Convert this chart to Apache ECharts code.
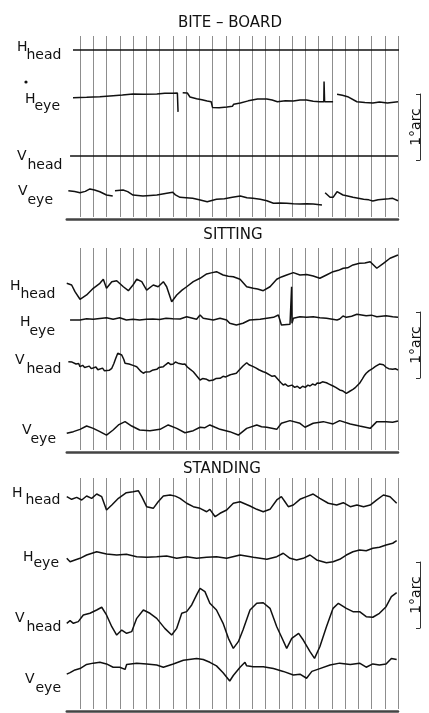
<!DOCTYPE html>
<html>
<head>
<meta charset="utf-8">
<title>Head and eye movements</title>
<script src="https://cdn.jsdelivr.net/npm/echarts@6/dist/echarts.min.js"></script>
<style>
  html, body { margin: 0; padding: 0; background: #fff; }
  #chart { width: 429px; height: 713px; }
</style>
</head>
<body>
<div id="chart"></div>
<script>
// time in units of the vertical time marks, positions in minutes of arc (up = positive)
const panelTitles = ['BITE – BOARD', 'SITTING', 'STANDING']
const traceNames = [['H', 'head'], ['H', 'eye'], ['V', 'head'], ['V', 'eye']]
const scaleLabel = '1°arc'
const markCount = 24

// bite-board
const biteHhead = [[-0.53, 0], [24.15, 0]]
const biteHeye = [[-0.53, -0.6], [0.5, -0.2], [1.5, 0.3], [2.5, 1.2], [3.2, 1.8], [4.0, 2.7], [4.8, 2.4], [5.8, 2.7],
  [6.4, 3.4], [7.0, 3.4], [7.35, 3.6], [7.4, -13.5], [7.45, null], [7.75, 3.9], [8.1, 3.6], [8.3, 0], [8.8, -1.5],
  [9.2, -2.5], [9.6, -3.6], [9.9, -4.3], [10.0, -9.5], [10.5, -9.8], [11.1, -9.1], [11.5, -8.5], [11.6, -6.5],
  [12.1, -5.5], [12.7, -3.5], [13.4, -1.8], [14.1, -1.8], [14.5, -2.8], [14.9, -4.3], [15.5, -3.5], [16.1, -3.6],
  [16.6, -2.7], [17.1, -2.7], [17.6, -3.8], [18.1, -4.3], [18.4, -4.3], [18.42, 14], [18.46, -4.3], [19.1, -4.3],
  [19.15, null], [19.4, 2.5], [19.8, 1.5], [20.2, 0.3], [20.9, -4.3], [21.5, -5], [22.1, -5.5], [22.6, -4.5],
  [23.2, -5.5], [24.0, -4.3]]
const biteVhead = [[-0.75, 0], [24.0, 0]]
const biteVeye = [[-0.88, 4.8], [-0.4, 4], [0, 3.0], [0.4, 4.2], [0.75, 6.4], [1.1, 5.5], [1.5, 3.9], [2.0, 0.9],
  [2.47, 0], [2.5, null], [2.64, 4.8], [3.25, 5.5], [3.6, 4], [4.0, 0.9], [4.75, 0], [5.3, 0.5], [5.8, 0.9],
  [6.55, 2.5], [7.0, 3.4], [7.2, 1], [7.55, -1.2], [8.0, -1.5], [8.5, -2.1], [9.0, -3.5], [9.6, -5.2], [10.3, -3.0],
  [10.9, -2.5], [11.5, -1.2], [12.1, 0], [12.6, -1.5], [13.05, -2.1], [13.6, -3], [14.1, -4.3], [14.6, -6.6],
  [15.1, -6.3], [15.6, -6.6], [16.1, -7], [16.6, -7.3], [17.1, -7], [17.6, -7.3], [18.26, -8.2], [18.35, null],
  [18.5, 3.0], [18.87, -1.2], [19.1, -1.2], [19.4, 3.9], [19.85, 0.9], [20.2, 0], [20.6, -1.2], [21.0, -2],
  [21.4, -3.0], [21.8, -3.5], [22.1, -4.5], [22.5, -3.5], [22.9, -3.0], [23.3, -2.5], [23.6, -2.1], [24.0, -4.3]]

// sitting
const sitHhead = [[-1.0, -0.3], [-0.63, -1.8], [-0.38, -7.9], [0, -14.8], [0.5, -10.9], [1.0, -4.8], [1.5, -0.3],
  [1.76, 3.4], [2.0, -4.8], [2.4, 1.2], [2.77, 2.1], [3.27, -3.4], [3.65, -7.0], [4.0, -1.8], [4.28, 3.4],
  [4.66, 1.2], [5.03, -6.4], [5.53, -1.8], [5.9, -3.4], [6.29, 1.2], [6.54, -3.4], [6.92, -17], [7.3, -10.9],
  [7.7, -6.5], [8.05, -3.4], [8.55, 1.2], [9.06, 4.3], [9.56, 8.2], [9.9, 9.2], [10.3, 10.3], [10.8, 7.3],
  [11.2, 6.2], [11.57, 5.7], [12.08, 3.4], [12.58, -3.4], [13.08, -4.8], [13.4, -5.5], [13.83, -7.0], [14.34, -3.4],
  [14.85, 3.4], [15.2, 5.5], [15.6, 7.3], [16.1, 9.4], [16.6, 7.3], [17.1, 7.8], [17.6, 6.4], [18.1, 4.3],
  [18.6, 7.3], [19.1, 10.3], [19.5, 11.5], [19.87, 13.4], [20.2, 13.8], [20.6, 16.4], [21.1, 17.9], [21.5, 18.2],
  [21.9, 19.4], [22.4, 13.4], [22.9, 17.9], [23.4, 22.5], [24.0, 25.5]]
const sitHeye = [[-0.75, -0.9], [0, -0.9], [0.5, 0.2], [1.0, -0.3], [1.5, 0.5], [2.0, 1.2], [2.5, -0.3], [3.0, 1.2],
  [3.5, -0.9], [4.0, -0.2], [4.5, -0.9], [5.0, -0.3], [5.5, 0], [6.0, -0.5], [6.5, 0.6], [7.0, 0.2], [7.55, 0],
  [8.05, 2.1], [8.8, -0.3], [9.06, 3.6], [9.3, 0.6], [10.06, -0.9], [10.57, 0.6], [11.07, -0.9], [11.3, -3.9],
  [11.8, -5.5], [12.3, -3.9], [12.8, -0.9], [13.6, -0.3], [14.1, 0.6], [14.6, 1.5], [14.97, 3.6], [15.2, -5.5],
  [15.85, -4.8], [15.95, -4.5], [15.97, 29.4], [16.0, -3.9], [16.1, 0.6], [16.6, 2.1], [17.1, 1.5], [17.6, 2.1],
  [18.1, 1.2], [18.6, 0.6], [19.4, -0.9], [19.6, 0], [19.85, 2.7], [20.1, 1.5], [20.5, 2.5], [20.9, 4.3],
  [21.6, 3.0], [22.0, 3.5], [22.4, 2.1], [23.1, 3.0], [23.6, 2.0], [24.0, 1.5]]
const sitVhead = [[-0.88, 4.8], [-0.75, 6.4], [-0.6, 4.5], [-0.45, 5.5], [-0.3, 2.7], [-0.1, 3.2], [0, 0.3],
  [0.2, 1.5], [0.35, -0.5], [0.5, -0.3], [0.7, 0.8], [0.85, -1.5], [1.0, -1.2], [1.2, 0], [1.35, -2.5], [1.5, -2.1],
  [1.7, -1.0], [1.85, -3.5], [2.0, -4.3], [2.2, -3], [2.4, -1.2], [2.55, 3], [2.7, 8], [2.85, 12.5], [3.0, 12],
  [3.15, 10.9], [3.3, 7], [3.4, 3.4], [3.55, 4.5], [3.7, 2.7], [3.85, 3.5], [4.0, 1.5], [4.15, 2], [4.28, 0.3],
  [4.45, -2], [4.6, -4], [4.78, -5.7], [4.95, -4.5], [5.1, -5], [5.28, -4.3], [5.45, -3], [5.6, -3.5], [5.79, -2.1],
  [5.95, -0.5], [6.1, -1], [6.29, 0.3], [6.45, 2], [6.66, 3.9], [6.85, 2.2], [7.04, 2.7], [7.2, 4.5], [7.4, 3.5],
  [7.55, 4.8], [7.75, 2.5], [7.92, 2.7], [8.1, 0], [8.3, -2], [8.55, -4.3], [8.8, -8], [9.06, -11.8], [9.25, -10.5],
  [9.4, -12], [9.56, -11.2], [9.75, -12.5], [9.9, -11], [10.06, -11.8], [10.25, -10.5], [10.4, -11.5], [10.57, -10.3],
  [10.8, -8.5], [11.0, -9], [11.3, -7.3], [11.5, -6.5], [11.8, -5.7], [12.0, -3], [12.3, 0.9], [12.45, 2.5],
  [12.58, 3.9], [12.75, 2], [12.9, 2.5], [13.08, 0.3], [13.3, -1], [13.5, -2.5], [13.83, -4.3], [14.0, -5],
  [14.15, -6.8], [14.34, -7.3], [14.5, -8.5], [14.7, -8], [14.85, -9.4], [15.0, -12], [15.15, -14], [15.34, -16.4],
  [15.5, -15.5], [15.7, -17.5], [15.85, -17.9], [16.0, -16.5], [16.2, -18.5], [16.4, -17.5], [16.6, -19.4],
  [16.8, -17.5], [17.0, -18.5], [17.2, -16.5], [17.36, -17.3], [17.55, -15.5], [17.75, -16.5], [17.9, -14.5],
  [18.1, -14.8], [18.3, -13.5], [18.45, -15], [18.6, -14.3], [18.8, -15.5], [18.95, -16], [19.1, -17.3],
  [19.3, -18.5], [19.45, -19.5], [19.6, -20.9], [19.8, -21.5], [19.95, -23], [20.1, -23.9], [20.3, -22.5],
  [20.45, -21.5], [20.6, -20.3], [20.8, -18.5], [20.95, -17], [21.1, -14.8], [21.3, -11], [21.45, -8], [21.6, -5.7],
  [21.8, -3.5], [21.95, -2.5], [22.1, -1.2], [22.3, 0.5], [22.45, 2], [22.6, 2.7], [22.75, 1.5], [22.9, 2],
  [23.1, -0.3], [23.3, -1.5], [23.45, -0.8], [23.6, -2.1], [23.8, -1.5], [24.0, -2.7]]
const sitVeye = [[-1.0, -3.0], [-0.5, -1.5], [0, 0.6], [0.5, 3.6], [1.0, 1.5], [1.5, -1.5], [2.0, -4.6], [2.5, 0],
  [2.9, 4.6], [3.4, 7.6], [3.9, 3.6], [4.5, 0], [5.28, -0.6], [6.04, 0.6], [6.66, 4.6], [7.3, 1.5], [7.92, -2.5],
  [8.55, -0.6], [9.06, 2.5], [9.4, 2.0], [9.8, 4.6], [10.2, 2.5], [10.57, 0.6], [11.3, -1.5], [11.95, -4.6],
  [12.58, 1.5], [13.34, 4.6], [13.7, 3.0], [14.1, 2.5], [14.85, 0.6], [15.2, 6.1], [15.85, 8.5], [16.6, 6.1],
  [16.98, 2.5], [17.6, 6.1], [18.36, 7.6], [19.1, 5.5], [19.6, 8.5], [20.4, 5.5], [21.1, 3.6], [21.9, 1.5],
  [22.4, 7.6], [23.1, 7.6], [23.6, 7.0], [24.0, 8.2]]

// standing
const standHhead = [[-1.0, 0.3], [-0.63, -2.1], [-0.25, -0.3], [0.13, -2.7], [0.5, 0.9], [0.88, -1.2], [1.26, 2.7],
  [1.64, 0.3], [2.0, -11.8], [2.4, -7.3], [2.9, -1.2], [3.5, 3.9], [4.0, 4.8], [4.4, 5.7], [4.66, 0.3],
  [5.03, -8.8], [5.53, -10.3], [5.9, -4.3], [6.29, 0.9], [6.8, 1.8], [7.2, 0.8], [7.55, -1.2], [8.05, -5.7],
  [8.55, -8.8], [9.06, -10.3], [9.56, -13.4], [9.8, -11.2], [10.2, -17.9], [10.57, -14.8], [11.07, -11.8],
  [11.57, -5.7], [12.08, -4.3], [12.83, -8.2], [13.34, -11.2], [13.83, -13.4], [14.34, -11.2], [14.85, -2.7],
  [15.2, 0.3], [15.47, -4.3], [15.72, -8.8], [16.1, -7.3], [16.6, -2.1], [17.1, 0.3], [17.6, 2.7], [18.1, -1.2],
  [18.74, -5.7], [19.37, -7.3], [19.87, -5.2], [20.4, -8.8], [20.9, -7.3], [21.4, -8.8], [21.9, -7.3], [22.4, -2.7],
  [22.9, 1.8], [23.4, 0.3], [23.9, -5.7]]
const standHeye = [[-1.0, -1.2], [-0.75, -4.3], [-0.38, -2.7], [0, -1.2], [0.5, 1.8], [1.26, 4.8], [2.0, 2.7],
  [2.77, 1.8], [3.5, 2.5], [4.28, 0.3], [5.03, -0.3], [5.79, 0.3], [6.54, 0.9], [7.3, -1.2], [8.05, 0.3],
  [8.8, -1.2], [9.56, -0.3], [10.3, 0.3], [11.07, -1.2], [12.08, 1.8], [13.08, -0.3], [14.1, -2.1], [14.85, 0.3],
  [15.34, 3.4], [15.85, -1.2], [16.35, -2.7], [16.85, -1.2], [17.36, 1.8], [17.86, -2.7], [18.6, -5.2],
  [19.1, -4.3], [19.6, -2.1], [20.1, 1.8], [20.6, 4.8], [21.1, 6.4], [21.6, 5.7], [22.1, 7.9], [22.6, 8.8],
  [23.1, 10.9], [23.6, 12.5], [23.9, 14.8]]
const standVhead = [[-1.0, -3.0], [-0.75, -0.6], [-0.5, -3.0], [-0.13, -1.5], [0.25, 4.6], [0.75, 6.1], [1.26, 9.1],
  [1.64, 11.6], [2.0, 4.6], [2.4, -6.1], [2.77, -13.7], [3.15, -9.1], [3.52, -12.1], [3.9, -10.6], [4.28, 1.5],
  [4.78, 9.1], [5.28, 6.1], [5.79, 1.5], [6.4, -7.6], [6.92, -13.7], [7.3, -7.6], [7.68, 6.1], [8.05, 7.6],
  [8.43, 13.7], [8.8, 22.8], [9.06, 28.8], [9.43, 25.8], [9.8, 15.2], [10.3, 9.1], [10.8, -3.0], [11.2, -16.7],
  [11.57, -25.8], [11.95, -19.7], [12.3, -9.1], [12.83, 9.1], [13.34, 15.2], [13.83, 15.7], [14.34, 10.6],
  [14.85, -6.1], [15.2, -15.2], [15.6, -25.8], [15.98, -16.7], [16.5, -12.1], [16.85, -18.2], [17.36, -28.8],
  [17.7, -34.9], [18.1, -24.3], [18.6, -6.1], [19.1, 10.6], [19.5, 15.2], [20.1, 10.6], [20.6, 7.6], [21.1, 7.6],
  [21.6, 3.0], [22.1, 2.5], [22.6, 6.1], [23.1, 12.1], [23.5, 21.2], [23.9, 24.8]]
const standVeye = [[-1.0, -7.3], [-0.75, -5.7], [-0.38, -2.7], [0, -1.2], [0.5, 3.4], [1.0, 4.8], [1.5, 5.7],
  [2.0, 3.9], [2.5, 0.3], [3.0, 0.3], [3.4, -2.1], [3.52, 3.4], [4.28, 4.8], [5.03, 3.9], [5.79, 2.7], [6.29, 0.3],
  [7.04, 3.9], [7.8, 7.9], [8.8, 10.0], [9.3, 8.8], [9.8, 5.7], [10.3, 1.8], [10.8, -5.7], [11.3, -14.8],
  [11.57, -8.8], [12.08, 0.3], [12.45, 5.7], [12.58, 1.8], [13.08, 0.9], [13.83, 0.9], [14.6, -1.2], [15.34, -4.3],
  [16.1, -8.2], [16.6, -7.3], [17.1, -11.8], [17.5, -4.3], [18.1, -1.2], [18.87, 2.7], [19.6, 4.8], [20.4, 3.4],
  [21.1, 4.8], [21.6, 0.3], [22.1, 3.9], [22.6, 2.7], [23.1, 3.9], [23.5, 10.0], [23.9, 8.8]]

const panelTraces = [
  [biteHhead, biteHeye, biteVhead, biteVeye],
  [sitHhead, sitHeye, sitVhead, sitVeye],
  [standHhead, standHeye, standVhead, standVeye]
]

// layout in px
const X0 = 80, X1 = 398
const UNIT = (X1 - X0) / markCount
const T_MIN = -1
const PX_PER_ARCMIN = 1.1
const TRACE_RANGE = 50
const FONT = '"DejaVu Sans", "Liberation Sans", sans-serif'
const INK = '#111'
const LAYOUT = [
  {title: [230, 23], marks: [36, 217], base: 219, traces: [45, 97, 156, 196], scale: 94,
    labels: [[17, 47, 26.5, 55], [25, 99, 34.5, 106], [17, 156, 27.5, 165], [18, 191, 27.5, 200]]},
  {title: [233, 235], marks: [248, 450], base: 452, traces: [283, 319, 367, 430], scale: 312,
    labels: [[10, 286, 20.5, 294], [20, 322, 29.5, 331], [15, 360, 26.5, 369], [22, 430, 30.5, 439]]},
  {title: [222, 469], marks: [478, 709], base: 711, traces: [497, 557, 620, 677], scale: 562,
    labels: [[12, 493, 25.5, 500], [23, 557, 33.5, 563], [15, 618, 26.5, 627], [25, 679, 35.5, 688]]}
]

const grid = [], xAxis = [], yAxis = [], series = [], graphic = []
const hidden = (min, max) => ({type: 'value', show: false, min: min, max: max})

function addGrid(g, x, y) {
  const i = grid.length
  grid.push(Object.assign({containLabel: false}, g))
  xAxis.push(Object.assign({gridIndex: i}, x))
  yAxis.push(Object.assign({gridIndex: i}, y))
  return i
}

function text(str, x, y, size, align, extra) {
  return Object.assign({
    type: 'text', x: x, y: y, silent: true,
    style: {text: str, font: size + 'px ' + FONT, fill: INK,
      textAlign: align, align: align, textVerticalAlign: 'middle', verticalAlign: 'middle'}
  }, extra || {})
}

const traceLeft = X0 + T_MIN * UNIT
LAYOUT.forEach((p, pi) => {
  // time marks
  addGrid({left: X0, width: X1 - X0, top: p.marks[0], height: p.marks[1] - p.marks[0]},
    {type: 'value', min: 0, max: markCount, interval: 1,
      axisLine: {show: false}, axisTick: {show: false}, axisLabel: {show: false},
      splitLine: {show: true, lineStyle: {color: '#8d8d8d', width: 1}}},
    hidden(0, 1))
  // base line under the panel
  addGrid({left: traceLeft, width: X1 - traceLeft, top: p.marks[0], height: p.base - p.marks[0]},
    {type: 'value', min: T_MIN, max: markCount, position: 'bottom',
      axisLine: {show: true, lineStyle: {color: '#444', width: 2.5}},
      axisTick: {show: false}, axisLabel: {show: false}, splitLine: {show: false}},
    hidden(0, 1))
  // scale bar, 1 degree = 60 arcmin
  addGrid({left: 420, width: 5, top: p.scale, height: 60 * PX_PER_ARCMIN},
    hidden(0, 1),
    {type: 'value', position: 'right', min: 0, max: 60, interval: 60,
      axisLine: {show: true, lineStyle: {color: '#333', width: 1}},
      axisTick: {show: true, inside: true, length: 4, lineStyle: {color: '#333'}},
      axisLabel: {show: false}, splitLine: {show: false}})
  // reads bottom to top
  graphic.push(text(scaleLabel, 416, p.scale + 30 * PX_PER_ARCMIN, 14, 'center', {rotation: Math.PI / 2}))
  graphic.push(text(panelTitles[pi], p.title[0], p.title[1], 15, 'center'))

  // traces
  p.traces.forEach((base, ti) => {
    const gi = addGrid(
      {left: traceLeft, width: X1 - traceLeft, top: base - TRACE_RANGE * PX_PER_ARCMIN, height: 2 * TRACE_RANGE * PX_PER_ARCMIN},
      hidden(T_MIN, markCount), hidden(-TRACE_RANGE, TRACE_RANGE))
    series.push({
      type: 'line', xAxisIndex: gi, yAxisIndex: gi, data: panelTraces[pi][ti],
      showSymbol: false, symbol: 'none', clip: false, silent: true, connectNulls: false,
      lineStyle: {color: INK, width: 1.5}
    })
    const lb = p.labels[ti]
    graphic.push(text(traceNames[ti][0], lb[0], lb[1], 14, 'left'))
    graphic.push(text(traceNames[ti][1], lb[2], lb[3], 14, 'left'))
  })
})
// dot over the bite-board H eye label
graphic.push({type: 'circle', silent: true, shape: {cx: 26, cy: 82, r: 1.6}, style: {fill: INK}})

const chart = echarts.init(document.getElementById('chart'), null, {renderer: 'canvas'})
chart.setOption({
  animation: false,
  backgroundColor: '#fff',
  grid: grid, xAxis: xAxis, yAxis: yAxis, series: series, graphic: graphic
})
</script>
</body>
</html>
